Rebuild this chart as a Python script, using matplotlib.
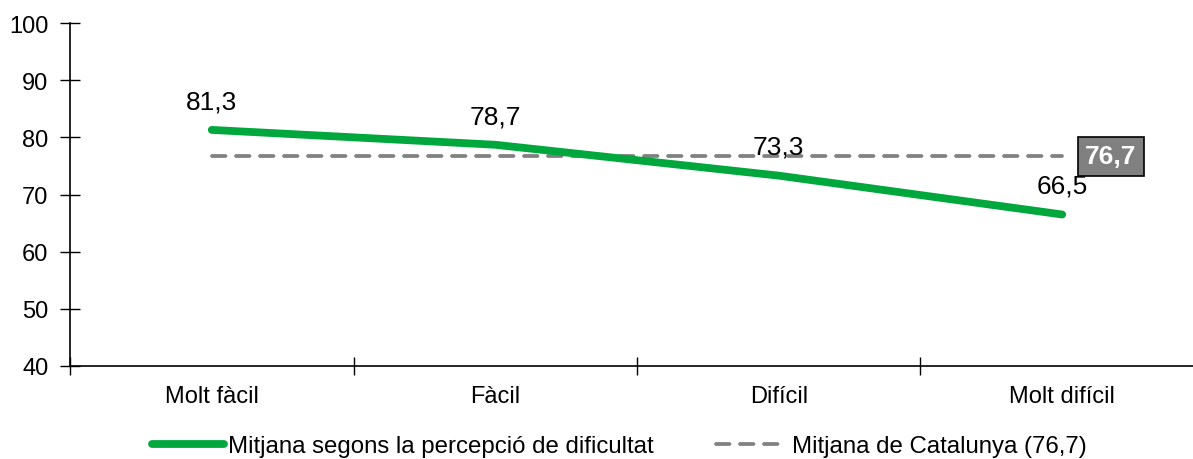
import numpy as np
import matplotlib
matplotlib.use('Agg')
import matplotlib.pyplot as plt

plt.rcParams['font.family'] = ['Liberation Sans', 'DejaVu Sans']

categories = ['Molt fàcil', 'Fàcil', 'Difícil', 'Molt difícil']
mitjana = [81.3, 78.7, 73.3, 66.5]
catalunya = 76.7

def fmt(v):
    return ('%.1f' % v).replace('.', ',')

fig = plt.figure(figsize=(11.93, 4.60), dpi=100)
ax = fig.add_axes([0.0587, 0.2022, 0.9505, 0.7456])

x = np.arange(len(categories))
verd = '#00A73C'
gris = '#808080'

l1, = ax.plot(x, mitjana, color=verd, lw=5.6, solid_capstyle='round',
              label='Mitjana segons la percepció de dificultat', zorder=3)
l2, = ax.plot(x, [catalunya] * len(x), color=gris, lw=2.7, dashes=(3.6, 2.8),
              dash_capstyle='round',
              label='Mitjana de Catalunya (76,7)', zorder=2)

# etiquetes de valor sobre cada punt
for xi, v in zip(x, mitjana):
    ax.annotate(fmt(v), (xi, v), xytext=(0, 12), textcoords='offset points',
                ha='center', va='bottom', fontsize=19, zorder=4)

ax.annotate(fmt(catalunya), (x[-1], catalunya), xytext=(35, 0),
            textcoords='offset points', ha='center', va='center',
            fontsize=19, fontweight='bold', color='white',
            bbox=dict(boxstyle='square,pad=0.28', fc=gris, ec='black', lw=1.2),
            zorder=5)

ax.set_xlim(-0.5, len(categories) - 0.5)
ax.set_ylim(40, 100)
ax.set_yticks(range(40, 101, 10))
ax.set_xticks(np.arange(-0.5, len(categories), 1.0))
ax.set_xticklabels([])
ax.set_xticks(x, minor=True)
ax.set_xticklabels(categories, minor=True)
ax.tick_params(axis='x', which='major', direction='inout', length=13, width=1)
ax.tick_params(axis='x', which='minor', length=0, labelsize=17, pad=14)
ax.tick_params(axis='y', direction='inout', length=15, width=1, labelsize=17, pad=8)
for s in ['top', 'right']:
    ax.spines[s].set_visible(False)
for s in ['left', 'bottom']:
    ax.spines[s].set_linewidth(1.2)

fig.legend(handles=[l1, l2], loc='center', bbox_to_anchor=(0.519, 0.028),
           ncol=2, frameon=False, fontsize=17.3, handlelength=3.0,
           handletextpad=0.17, columnspacing=2.6)

fig.savefig('out.png', dpi=100)
